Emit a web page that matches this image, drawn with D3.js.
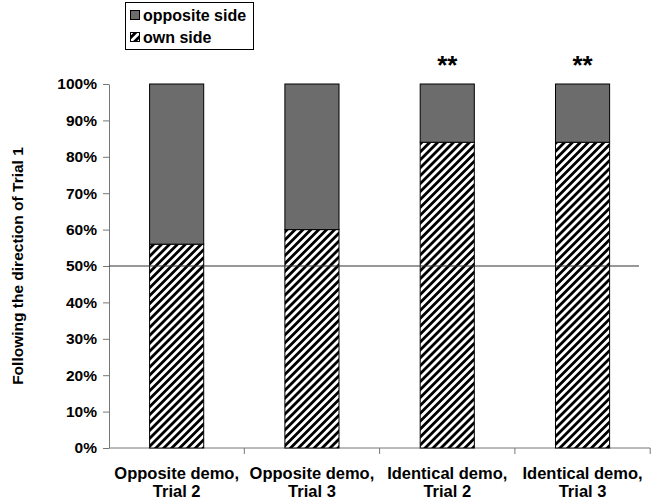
<!DOCTYPE html>
<html>
<head>
<meta charset="utf-8">
<script src="https://cdn.jsdelivr.net/npm/d3@7"></script>
<style>
  body { margin: 0; background: #fff; }
  text { font-family: "Liberation Sans", Arial, sans-serif; font-weight: bold; }
</style>
</head>
<body>
<div id="chart"></div>
<script>
// datos
var categorias = [["Opposite demo,", "Trial 2"], ["Opposite demo,", "Trial 3"], ["Identical demo,", "Trial 2"], ["Identical demo,", "Trial 3"]];
var ladoPropio = [56, 60, 84, 84];
var ladoOpuesto = [44, 40, 16, 16];
var marcas = ["", "", "**", "**"];
var ticksY = [0, 10, 20, 30, 40, 50, 60, 70, 80, 90, 100];
var leyenda = ["opposite side", "own side"];

var width = 655, height = 501;
var margen = { left: 109, right: 5, top: 84, bottom: 53 };

var svg = d3.select("#chart").append("svg")
    .attr("width", width)
    .attr("height", height);

var defs = svg.append("defs");
var patron = defs.append("pattern")
    .attr("id", "rayado")
    .attr("patternUnits", "userSpaceOnUse")
    .attr("width", 5.6)
    .attr("height", 5.6)
    .attr("patternTransform", "rotate(45)");
patron.append("rect").attr("width", 5.6).attr("height", 5.6).attr("fill", "#fff");
patron.append("rect").attr("width", 2.8).attr("height", 5.6).attr("fill", "#000");

var x = d3.scaleBand()
    .domain(d3.range(categorias.length))
    .range([margen.left, width - margen.right + 0.2])
    .paddingInner(0.6)
    .paddingOuter(0.3);

var y = d3.scaleLinear()
    .domain([0, 100])
    .range([height - margen.bottom, margen.top]);

// eje y
var ejeY = svg.append("g")
    .attr("transform", "translate(" + margen.left + ",0)")
    .call(d3.axisLeft(y).tickValues(ticksY).tickSize(6).tickSizeOuter(0).tickFormat(function (d) { return d + "%"; }));
ejeY.select(".domain").attr("stroke", "#777");
ejeY.selectAll(".tick line").attr("stroke", "#777");
ejeY.selectAll(".tick text")
    .attr("x", -12)
    .attr("fill", "#000")
    .style("font-size", "15.5px")
    .style("font-family", "'Liberation Sans', Arial, sans-serif")
    .style("font-weight", "bold");

// eje x
var bordes = d3.range(categorias.length + 1).map(function (i) {
    return margen.left + i * (width - margen.right + 0.2 - margen.left) / categorias.length;
});
svg.append("line")
    .attr("x1", margen.left).attr("x2", bordes[bordes.length - 1])
    .attr("y1", y(0)).attr("y2", y(0))
    .attr("stroke", "#777");
svg.selectAll(".tickx")
    .data(bordes.slice(1))
    .enter().append("line")
    .attr("x1", function (d) { return d; })
    .attr("x2", function (d) { return d; })
    .attr("y1", y(0)).attr("y2", y(0) + 6)
    .attr("stroke", "#777");

var etiquetas = svg.selectAll(".etiqueta")
    .data(categorias)
    .enter().append("text")
    .attr("text-anchor", "middle")
    .style("font-size", "16.5px")
    .attr("transform", function (d, i) { return "translate(" + (x(i) + x.bandwidth() / 2) + ",479)"; });
etiquetas.append("tspan").attr("x", 0).attr("y", 0).text(function (d) { return d[0]; });
etiquetas.append("tspan").attr("x", 0).attr("y", 18).text(function (d) { return d[1]; });

// barras
svg.selectAll(".propio")
    .data(ladoPropio)
    .enter().append("rect")
    .attr("x", function (d, i) { return x(i); })
    .attr("y", function (d) { return y(d); })
    .attr("width", x.bandwidth())
    .attr("height", function (d) { return y(0) - y(d); })
    .attr("fill", "url(#rayado)")
    .attr("stroke", "#000");

svg.selectAll(".opuesto")
    .data(ladoOpuesto)
    .enter().append("rect")
    .attr("x", function (d, i) { return x(i); })
    .attr("y", function (d, i) { return y(ladoPropio[i] + d); })
    .attr("width", x.bandwidth())
    .attr("height", function (d, i) { return y(ladoPropio[i]) - y(ladoPropio[i] + d); })
    .attr("fill", "#6c6c6c")
    .attr("stroke", "#000");

// linea del 50%
svg.append("line")
    .attr("x1", margen.left).attr("x2", 639)
    .attr("y1", y(50)).attr("y2", y(50))
    .attr("stroke", "#333")
    .attr("stroke-width", 1.2);

// asteriscos
svg.selectAll(".marca")
    .data(marcas)
    .enter().append("text")
    .attr("x", function (d, i) { return x(i) + x.bandwidth() / 2; })
    .attr("y", 74)
    .attr("text-anchor", "middle")
    .style("font-size", "26px")
    .text(function (d) { return d; });

// titulo eje y
svg.append("text")
    .attr("transform", "translate(23," + y(50) + ") rotate(-90)")
    .attr("text-anchor", "middle")
    .style("font-size", "15.5px")
    .text("Following the direction of Trial 1");

// leyenda
var ley = svg.append("g");
ley.append("rect")
    .attr("x", 125.5).attr("y", 2.5)
    .attr("width", 128).attr("height", 47)
    .attr("fill", "#fff")
    .attr("stroke", "#000");
ley.selectAll(".sw")
    .data(leyenda)
    .enter().append("rect")
    .attr("x", 130.5)
    .attr("y", function (d, i) { return 10.5 + i * 22; })
    .attr("width", 9).attr("height", 9)
    .attr("fill", function (d, i) { return i === 0 ? "#6c6c6c" : "url(#rayado)"; })
    .attr("stroke", "#000");
ley.selectAll(".lt")
    .data(leyenda)
    .enter().append("text")
    .attr("x", 143)
    .attr("y", function (d, i) { return 21 + i * 22; })
    .style("font-size", "16px")
    .text(function (d) { return d; });
</script>
</body>
</html>
